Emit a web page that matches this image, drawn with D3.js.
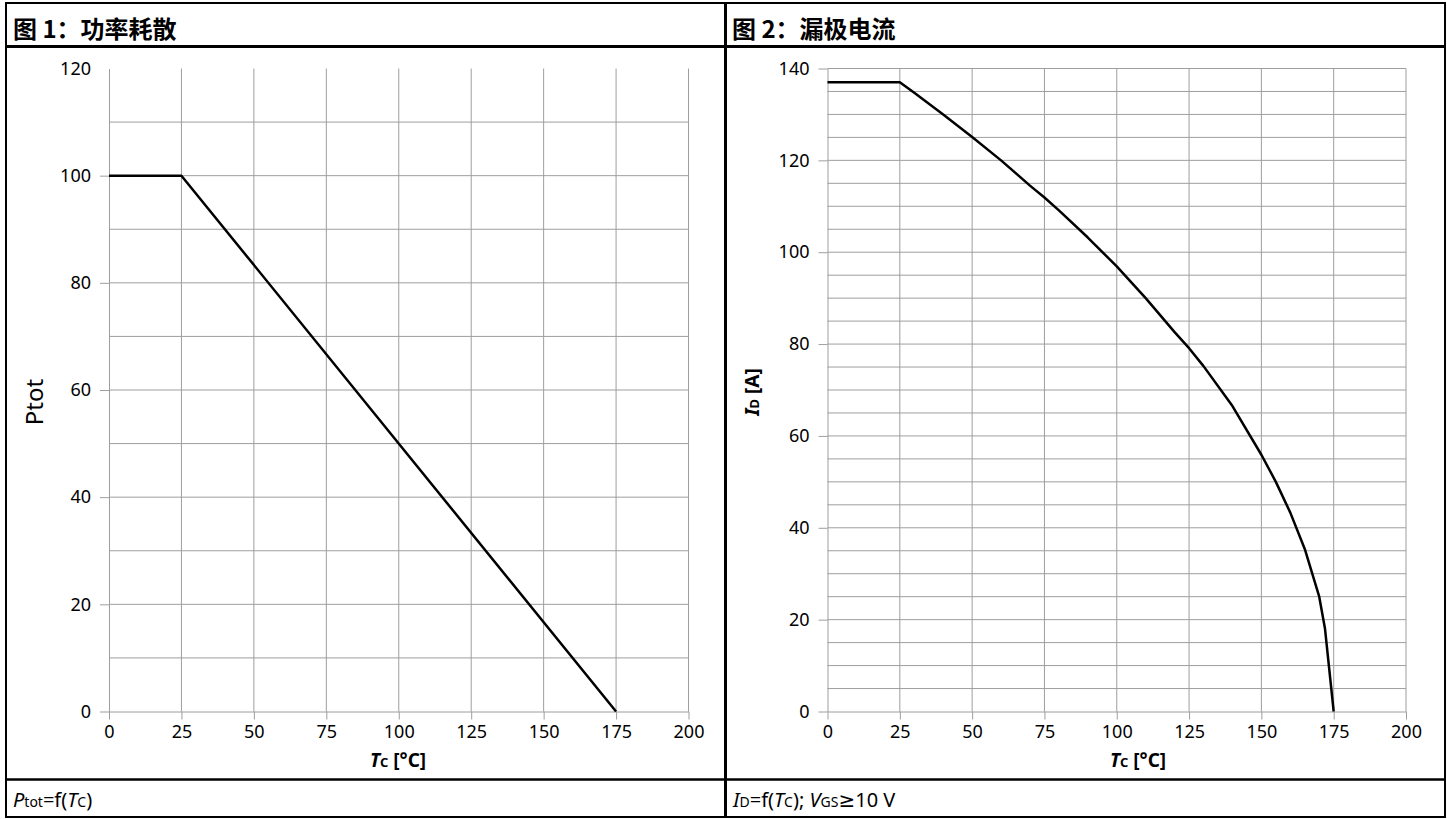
<!DOCTYPE html>
<html>
<head>
<meta charset="utf-8">
<script src="https://cdn.jsdelivr.net/npm/d3@7/dist/d3.min.js"></script>
<style>
  body { margin: 0; background: #fff; }
  text { font-family: "Noto Sans", "Noto Sans CJK SC", sans-serif; fill: #000; }
  .grid line { stroke: #9e9e9e; stroke-width: 1; }
  .axis path { stroke: #9e9e9e; }
  .axis line { stroke: #9e9e9e; }
  .axis text { font-size: 18px; }
</style>
</head>
<body>
<div id="chart"></div>
<script>
// shared temperature axis
var tempTicks = [0, 25, 50, 75, 100, 125, 150, 175, 200];

// figure 1: power dissipation vs case temperature
var powerTemp = [0, 25, 175];
var powerValue = [100, 100, 0];
var powerTicks = [0, 20, 40, 60, 80, 100, 120];

// figure 2: drain current vs case temperature
var drainTemp = [0, 25, 30, 40, 50, 60, 70, 75, 80, 90, 100, 110, 120, 125, 130, 140, 150, 155, 160, 165, 170, 172, 175];
var drainCurrent = [137, 137, 134.7, 130, 125.1, 120, 114.5, 111.9, 109.1, 103.2, 96.9, 90, 82.6, 79.1, 75.2, 66.5, 55.9, 50, 43.3, 35.4, 25, 18, 0];
var drainTicks = [0, 20, 40, 60, 80, 100, 120, 140];

var svgWidth = 1447;
var svgHeight = 819;

var svg = d3.select("#chart")
  .append("svg")
  .attr("width", svgWidth)
  .attr("height", svgHeight);

// plot areas, one per panel
var panels = [
  { x0: 109, x1: 688.5, yMax: 120, gridStep: 10, gridTop: 110, xs: powerTemp, ys: powerValue, yTicks: powerTicks },
  { x0: 827.5, x1: 1406, yMax: 140, gridStep: 5, gridTop: 140, xs: drainTemp, ys: drainCurrent, yTicks: drainTicks }
];
var plotTop = 68.5;
var plotBottom = 711.5;

panels.forEach(function(p, i) {
  var x = d3.scaleLinear().domain([0, 200]).range([p.x0, p.x1]);
  var y = d3.scaleLinear().domain([0, p.yMax]).range([plotBottom, plotTop]);

  var g = svg.append("g");

  // horizontal grid
  g.append("g").attr("class", "grid")
    .selectAll("line")
    .data(d3.range(p.gridStep, p.gridTop + 0.1, p.gridStep))
    .enter().append("line")
      .attr("x1", p.x0).attr("x2", p.x1)
      .attr("y1", d => y(d)).attr("y2", d => y(d));

  // vertical grid
  g.append("g").attr("class", "grid")
    .selectAll("line")
    .data(tempTicks.slice(1))
    .enter().append("line")
      .attr("x1", d => x(d)).attr("x2", d => x(d))
      .attr("y1", plotTop).attr("y2", plotBottom);

  // axes
  g.append("g").attr("class", "axis")
    .attr("transform", `translate(0, ${plotBottom})`)
    .call(d3.axisBottom(x).tickValues(tempTicks).tickSize(8).tickPadding(6).tickSizeOuter(0));

  var yAxis = g.append("g").attr("class", "axis")
    .attr("transform", `translate(${p.x0}, 0)`)
    .call(d3.axisLeft(y).tickValues(p.yTicks).tickSize(9).tickPadding(9).tickSizeOuter(0));

  // no tick mark at the top of figure 1
  if (p.gridTop < p.yMax) {
    yAxis.selectAll(".tick line").filter(d => d === p.yMax).remove();
  }

  // curve
  var pts = p.xs.map((t, k) => [t, p.ys[k]]);
  g.append("path")
    .datum(pts)
    .attr("fill", "none")
    .attr("stroke", "#000")
    .attr("stroke-width", 2.5)
    .attr("stroke-linejoin", "round")
    .attr("d", d3.line().x(d => x(d[0])).y(d => y(d[1])));
});

// x axis titles: T_C [°C]
[398, 1138].forEach(function(cx) {
  var t = svg.append("text")
    .attr("x", cx).attr("y", 767)
    .attr("text-anchor", "middle")
    .style("font-size", "19px")
    .style("font-weight", "bold");
  t.append("tspan").style("font-style", "italic").text("T");
  t.append("tspan").style("font-size", "13px").text("C");
  t.append("tspan").text(" [°C]");
});

// y axis title, left
svg.append("text")
  .attr("transform", "translate(43, 402) rotate(-90)")
  .attr("text-anchor", "middle")
  .style("font-size", "24px")
  .text("Ptot");

// y axis title, right
var yt = svg.append("text")
  .attr("transform", "translate(759, 392) rotate(-90)")
  .attr("text-anchor", "middle")
  .style("font-size", "19px")
  .style("font-weight", "bold");
yt.append("tspan").style("font-style", "italic").text("I");
yt.append("tspan").style("font-size", "13px").text("D");
yt.append("tspan").text(" [A]");

// headers
svg.append("text").attr("x", 13).attr("y", 38)
  .style("font-size", "24px").style("font-weight", "bold")
  .style("font-family", "'Noto Sans CJK SC', sans-serif")
  .text("图 1：功率耗散");
svg.append("text").attr("x", 732).attr("y", 38)
  .style("font-size", "24px").style("font-weight", "bold")
  .style("font-family", "'Noto Sans CJK SC', sans-serif")
  .text("图 2：漏极电流");

// footers
var f1 = svg.append("text").attr("x", 13).attr("y", 807).style("font-size", "20px");
f1.append("tspan").style("font-style", "italic").text("P");
f1.append("tspan").style("font-size", "14px").text("tot");
f1.append("tspan").text("=f(");
f1.append("tspan").style("font-style", "italic").text("T");
f1.append("tspan").style("font-size", "14px").text("C");
f1.append("tspan").text(")");

var f2 = svg.append("text").attr("x", 733).attr("y", 807).style("font-size", "20px");
f2.append("tspan").style("font-style", "italic").text("I");
f2.append("tspan").style("font-size", "14px").text("D");
f2.append("tspan").text("=f(");
f2.append("tspan").style("font-style", "italic").text("T");
f2.append("tspan").style("font-size", "14px").text("C");
f2.append("tspan").text("); ");
f2.append("tspan").style("font-style", "italic").text("V");
f2.append("tspan").style("font-size", "14px").text("GS");
f2.append("tspan").style("font-family", "'DejaVu Sans', sans-serif").text("≥");
f2.append("tspan").text("10 V");

// table borders
var borders = svg.append("g").attr("stroke", "#000").attr("fill", "none");
borders.append("rect").attr("x", 6).attr("y", 3).attr("width", 1439).attr("height", 814).attr("stroke-width", 2);
borders.append("line").attr("x1", 6).attr("x2", 1445).attr("y1", 46.5).attr("y2", 46.5).attr("stroke-width", 3);
borders.append("line").attr("x1", 6).attr("x2", 1445).attr("y1", 779.5).attr("y2", 779.5).attr("stroke-width", 2.5);
borders.append("line").attr("x1", 725.5).attr("x2", 725.5).attr("y1", 3).attr("y2", 817).attr("stroke-width", 3);
</script>
</body>
</html>
